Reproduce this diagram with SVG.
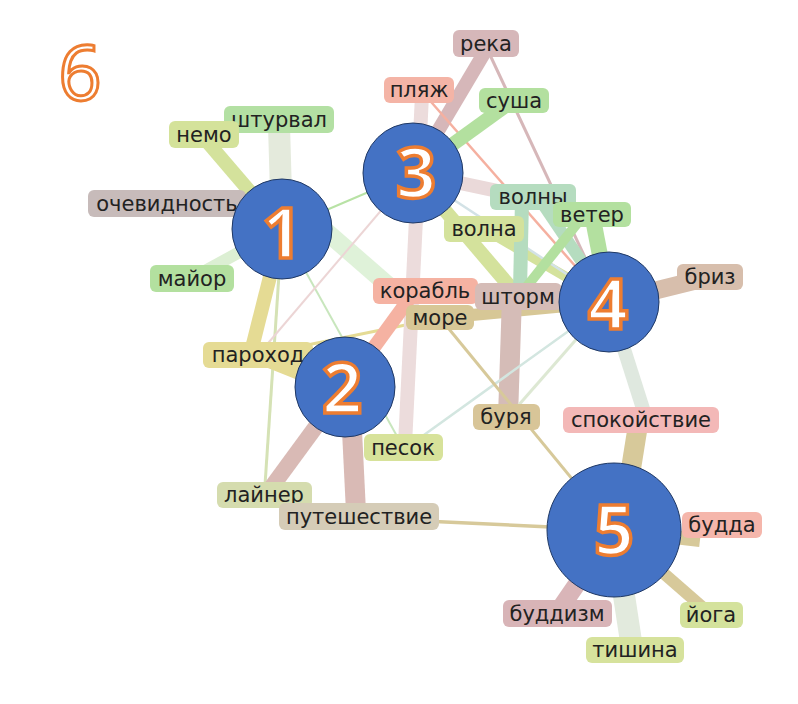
<svg xmlns="http://www.w3.org/2000/svg" width="798" height="704" viewBox="0 0 798 704">
<style>
.lbl{font-family:"DejaVu Sans","Noto Sans",sans-serif;font-size:21px;fill:#222;text-anchor:middle}
.num{font-family:"Open Sans","Noto Sans",sans-serif;font-size:70px;font-weight:700;fill:#fff;stroke:#ed7d31;stroke-width:3.5;text-anchor:middle}
.c{fill:#4472c4;stroke:#1f3864;stroke-width:1}
#edges line{stroke-linecap:butt}
</style>
<rect width="798" height="704" fill="#fff"/>
<text x="80" y="100" class="num" style="font-size:76px;font-weight:400;stroke-width:3">6</text>
<g id="edges" fill="none">
<line x1="282" y1="229" x2="279" y2="125" stroke="#e4eadc" stroke-width="22"/>
<line x1="282" y1="229" x2="204" y2="138" stroke="#d4e29c" stroke-width="14"/>
<line x1="282" y1="229" x2="192" y2="278" stroke="#dcefd3" stroke-width="12"/>
<line x1="290" y1="200" x2="405" y2="300" stroke="#dff2d9" stroke-width="18"/>
<line x1="282" y1="229" x2="413" y2="173" stroke="#b8e2a5" stroke-width="2"/>
<line x1="282" y1="229" x2="403" y2="447" stroke="#c8e6bd" stroke-width="2"/>
<line x1="282" y1="229" x2="265" y2="485" stroke="#d5e2b5" stroke-width="3"/>
<line x1="258" y1="355" x2="413" y2="173" stroke="#ecd5d5" stroke-width="2"/>
<line x1="252" y1="348" x2="282" y2="229" stroke="#e5db94" stroke-width="14"/>
<line x1="270" y1="357" x2="345" y2="387" stroke="#e5db94" stroke-width="22"/>
<line x1="258" y1="355" x2="440" y2="318" stroke="#e5db94" stroke-width="3"/>
<line x1="422" y1="95" x2="405" y2="445" stroke="#ecdcdc" stroke-width="14"/>
<line x1="345" y1="387" x2="412" y2="295" stroke="#f5b2a2" stroke-width="14"/>
<line x1="345" y1="387" x2="268" y2="492" stroke="#d9bab5" stroke-width="16"/>
<line x1="350" y1="390" x2="356" y2="512" stroke="#d9bab5" stroke-width="20"/>
<line x1="486" y1="50" x2="413" y2="173" stroke="#d6b7b9" stroke-width="14"/>
<line x1="490" y1="55" x2="605" y2="300" stroke="#d6b7b9" stroke-width="3"/>
<line x1="425" y1="95" x2="605" y2="300" stroke="#f5b0a0" stroke-width="2.5"/>
<line x1="514" y1="100" x2="413" y2="173" stroke="#b3e09f" stroke-width="14"/>
<line x1="413" y1="173" x2="540" y2="200" stroke="#ead9d9" stroke-width="14"/>
<line x1="413" y1="173" x2="518" y2="296" stroke="#d4e29c" stroke-width="14"/>
<line x1="484" y1="229" x2="609" y2="302" stroke="#d4e29c" stroke-width="10"/>
<line x1="413" y1="173" x2="609" y2="302" stroke="#d3e2e6" stroke-width="2.5"/>
<line x1="522" y1="200" x2="520" y2="290" stroke="#b5dcbf" stroke-width="14"/>
<line x1="540" y1="200" x2="609" y2="302" stroke="#b5dcbf" stroke-width="12"/>
<line x1="592" y1="214" x2="609" y2="302" stroke="#b3e09f" stroke-width="16"/>
<line x1="580" y1="220" x2="520" y2="295" stroke="#b3e09f" stroke-width="10"/>
<line x1="440" y1="318" x2="609" y2="302" stroke="#d7c796" stroke-width="12"/>
<line x1="512" y1="296" x2="508" y2="417" stroke="#d5bcb7" stroke-width="20"/>
<line x1="609" y1="302" x2="710" y2="277" stroke="#d7beac" stroke-width="18"/>
<line x1="609" y1="302" x2="410" y2="445" stroke="#d3e6e0" stroke-width="2.5"/>
<line x1="609" y1="302" x2="510" y2="415" stroke="#dde8d3" stroke-width="3"/>
<line x1="609" y1="302" x2="645" y2="415" stroke="#dfe8df" stroke-width="14"/>
<line x1="638" y1="425" x2="626" y2="500" stroke="#d7c99a" stroke-width="20"/>
<line x1="614" y1="530" x2="632" y2="648" stroke="#e2eadd" stroke-width="22"/>
<line x1="614" y1="530" x2="708" y2="612" stroke="#d7c99a" stroke-width="12"/>
<line x1="614" y1="530" x2="700" y2="540" stroke="#d7c99a" stroke-width="14"/>
<line x1="614" y1="530" x2="557" y2="613" stroke="#d9b5b8" stroke-width="18"/>
<line x1="440" y1="318" x2="614" y2="530" stroke="#d7c99a" stroke-width="3"/>
<line x1="359" y1="518" x2="614" y2="530" stroke="#d7c99a" stroke-width="3.5"/>
</g>
<g id="n-reka"><rect x="453" y="30" width="66" height="27" rx="6" fill="#d6b7b9"/><text x="486" y="51" class="lbl">река</text></g>
<g id="n-plyazh"><rect x="384" y="77" width="70" height="26" rx="6" fill="#f4b4a6"/><text x="419" y="97" class="lbl">пляж</text></g>
<g id="n-susha"><rect x="479" y="88" width="70" height="25" rx="6" fill="#b3e09f"/><text x="514" y="108" class="lbl">суша</text></g>
<g id="n-shturval"><rect x="224" y="106" width="110" height="27" rx="6" fill="#b3e0a3"/><text x="279" y="127" class="lbl">штурвал</text></g>
<g id="n-nemo"><rect x="169" y="121" width="70" height="27" rx="6" fill="#d4e29a"/><text x="204" y="142" class="lbl">немо</text></g>
<g id="n-ochevidnost"><rect x="88" y="190" width="158" height="27" rx="6" fill="#c7bbba"/><text x="167" y="211" class="lbl">очевидность</text></g>
<g id="n-mayor"><rect x="150" y="265" width="84" height="27" rx="6" fill="#b3e09f"/><text x="192" y="286" class="lbl">майор</text></g>
<g id="n-parohod"><rect x="203" y="342" width="110" height="26" rx="6" fill="#e5db94"/><text x="258" y="362" class="lbl">пароход</text></g>
<g id="n-layner"><rect x="217" y="482" width="95" height="26" rx="6" fill="#d5dcae"/><text x="264" y="502" class="lbl">лайнер</text></g>
<g id="n-puteshestvie"><rect x="279" y="503" width="160" height="27" rx="6" fill="#d5ccb7"/><text x="359" y="524" class="lbl">путешествие</text></g>
<g id="n-pesok"><rect x="364" y="434" width="79" height="27" rx="6" fill="#d7e29a"/><text x="403" y="455" class="lbl">песок</text></g>
<g id="n-korabl"><rect x="373" y="278" width="105" height="26" rx="6" fill="#f5b2a2"/><text x="425" y="298" class="lbl">корабль</text></g>
<g id="n-shtorm"><rect x="475" y="283" width="87" height="27" rx="6" fill="#d5bcb7"/><text x="518" y="304" class="lbl">шторм</text></g>
<g id="n-more"><rect x="406" y="305" width="68" height="25" rx="6" fill="#d7c796"/><text x="440" y="325" class="lbl">море</text></g>
<g id="n-volna"><rect x="444" y="216" width="80" height="26" rx="6" fill="#d4e29c"/><text x="484" y="236" class="lbl">волна</text></g>
<g id="n-volny"><rect x="490" y="184" width="86" height="26" rx="6" fill="#b5dcbf"/><text x="533" y="204" class="lbl">волны</text></g>
<g id="n-veter"><rect x="553" y="202" width="78" height="25" rx="6" fill="#b3e09f"/><text x="592" y="222" class="lbl">ветер</text></g>
<g id="n-briz"><rect x="677" y="264" width="66" height="26" rx="6" fill="#d7beac"/><text x="710" y="284" class="lbl">бриз</text></g>
<g id="n-burya"><rect x="473" y="404" width="67" height="26" rx="6" fill="#d8c598"/><text x="506" y="424" class="lbl">буря</text></g>
<g id="n-spokoystvie"><rect x="563" y="407" width="156" height="26" rx="6" fill="#f3b8b7"/><text x="641" y="427" class="lbl">спокойствие</text></g>
<g id="n-budda"><rect x="682" y="512" width="80" height="26" rx="6" fill="#f5b6ab"/><text x="722" y="532" class="lbl">будда</text></g>
<g id="n-buddizm"><rect x="503" y="600" width="109" height="27" rx="6" fill="#d8b4b7"/><text x="557" y="621" class="lbl">буддизм</text></g>
<g id="n-yoga"><rect x="680" y="602" width="63" height="26" rx="6" fill="#d4e29c"/><text x="711" y="622" class="lbl">йога</text></g>
<g id="n-tishina"><rect x="586" y="637" width="98" height="26" rx="6" fill="#d6e29c"/><text x="635" y="657" class="lbl">тишина</text></g>
<g id="c1"><circle cx="282" cy="229" r="50" class="c"/><text x="282" y="258" class="num">1</text></g>
<g id="c2"><circle cx="345" cy="387" r="50" class="c"/><text x="342" y="413" class="num">2</text></g>
<g id="c3"><circle cx="413" cy="173" r="50" class="c"/><text x="416" y="198" class="num">3</text></g>
<g id="c4"><circle cx="609" cy="302" r="50" class="c"/><text x="608" y="329" class="num">4</text></g>
<g id="c5"><circle cx="614" cy="530" r="67" class="c"/><text x="614" y="555" class="num">5</text></g>
</svg>
